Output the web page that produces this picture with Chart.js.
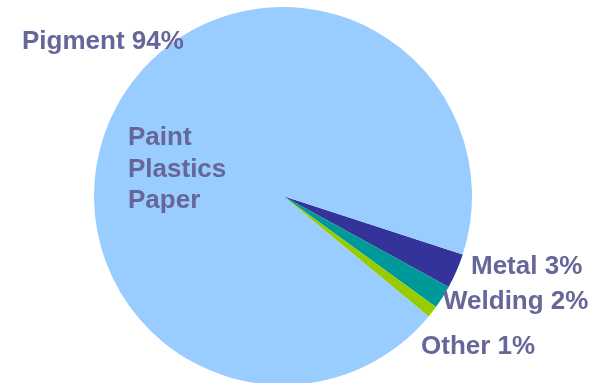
<!DOCTYPE html>
<html>
<head>
<meta charset="utf-8">
<script src="https://cdn.jsdelivr.net/npm/chart.js@4/dist/chart.umd.min.js"></script>
<style>
  html, body { margin: 0; padding: 0; background: #fff; overflow: hidden; }
  #wrap { position: absolute; left: 0; top: 0; width: 600px; height: 400px; }
</style>
</head>
<body>
<div id="wrap"><canvas id="pieChart"></canvas></div>
<script>
// slice data, clockwise from the Metal slice
const categories = ['Metal', 'Welding', 'Other', 'Pigment'];
const shares = [3, 2, 1, 94];
const sliceColors = ['#333399', '#009999', '#99CC00', '#99CCFF'];
const pigmentUses = ['Paint', 'Plastics', 'Paper'];

// where each text label sits on the page (left x, baseline y)
const labelSpots = {
    Metal: [471, 274],
    Welding: [443, 309],
    Other: [421, 354],
    Pigment: [22, 49]
};
const usesSpot = [128, 145];
const lineGap = 31.5;

const labelPlugin = {
    id: 'sliceLabels',
    afterDraw(chart) {
        const ctx = chart.ctx;
        ctx.save();
        ctx.font = 'bold 26px "Liberation Sans", Arial, sans-serif';
        ctx.fillStyle = '#666699';
        ctx.textAlign = 'left';
        ctx.textBaseline = 'alphabetic';
        categories.forEach((name, i) => {
            const p = labelSpots[name];
            ctx.fillText(name + ' ' + shares[i] + '%', p[0], p[1]);
        });
        pigmentUses.forEach((txt, i) => {
            ctx.fillText(txt, usesSpot[0], usesSpot[1] + i * lineGap);
        });
        ctx.restore();
    }
};

const ctx = document.getElementById('pieChart').getContext('2d');
new Chart(ctx, {
    type: 'pie',
    data: {
        labels: categories,
        datasets: [{
            data: shares,
            backgroundColor: sliceColors,
            borderWidth: 0
        }]
    },
    options: {
        responsive: true,
        maintainAspectRatio: false,
        animation: false,
        rotation: 108,
        layout: { padding: { left: 94, right: 128, top: 7, bottom: 15 } },
        plugins: {
            legend: { display: false },
            tooltip: { enabled: false }
        }
    },
    plugins: [labelPlugin]
});
</script>
</body>
</html>
